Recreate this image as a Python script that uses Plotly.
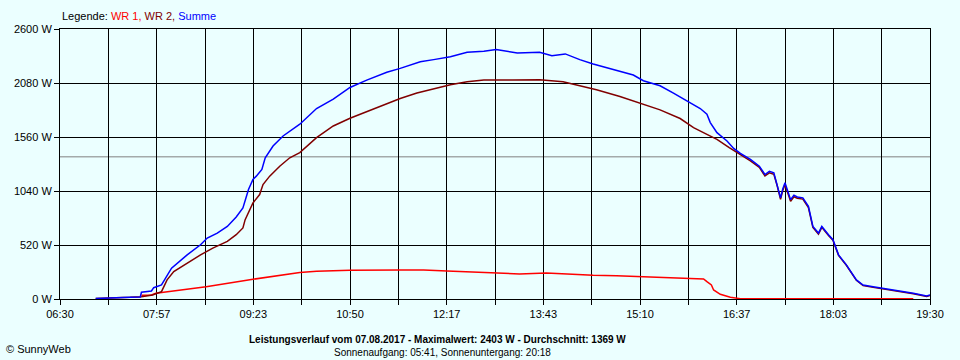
import plotly.graph_objects as go

# ---- data ----
summe_time = ["07:02","07:20","07:33","07:42","07:43","07:52","07:54","08:01","08:06","08:10",
              "08:24","08:36","08:42","08:51","09:00","09:08","09:14","09:16","09:19","09:23",
              "09:26","09:31","09:34","09:41","09:50","10:05","10:20","10:35","10:50","11:05",
              "11:23","11:35","11:53","12:05","12:20","12:35","12:50","13:01","13:20","13:40",
              "13:51","14:03","14:16","14:28","14:46","15:04","15:13","15:28","15:40","15:53",
              "16:04","16:10","16:13","16:19","16:28","16:34","16:40","16:49","16:57","17:02",
              "17:06","17:10","17:13","17:16","17:18","17:20","17:25","17:28","17:31","17:36",
              "17:41","17:45","17:50","17:53","17:59","18:03","18:08","18:15","18:24","18:30",
              "18:39","18:48","19:03","19:15","19:27","19:30"]
summe_w = [5,8,16,20,65,77,109,135,232,297,
           425,522,587,635,699,790,877,957,1054,1151,
           1183,1247,1360,1473,1570,1683,1834,1924,2037,2108,
           2183,2221,2285,2305,2333,2376,2386,2403,2369,2376,
           2343,2360,2305,2263,2208,2157,2102,2053,1983,1898,
           1834,1779,1699,1602,1521,1450,1402,1344,1279,1199,
           1230,1215,1102,974,1060,1119,957,1000,983,974,
           893,699,635,699,619,571,425,329,184,135,
           119,103,80,55,29,39]

wr2_time = ["07:02","07:20","07:33","07:43","07:53","08:01","08:06","08:12","08:24","08:36",
            "08:47","09:00","09:08","09:14","09:16","09:19","09:23","09:29","09:32","09:38",
            "09:47","09:56","10:05","10:20","10:35","10:50","11:05","11:20","11:35","11:50",
            "12:05","12:20","12:35","12:50","13:16","13:40","14:01","14:16","14:31","14:52",
            "15:10","15:28","15:46","15:58","16:10","16:19","16:30","16:40","16:49","16:57",
            "17:02","17:06","17:10","17:13","17:16","17:18","17:20","17:25","17:28","17:31",
            "17:36","17:41","17:45","17:50","17:53","17:59","18:03","18:08","18:15","18:24",
            "18:30","18:39","18:48","19:03","19:15","19:27","19:30"]
wr2_w = [5,8,16,22,39,71,184,264,345,425,
         490,554,619,684,764,829,925,1006,1102,1183,
         1279,1360,1409,1554,1666,1741,1802,1866,1931,1983,
         2021,2063,2092,2108,2108,2111,2092,2053,2014,1950,
         1886,1821,1738,1651,1586,1538,1457,1393,1330,1268,
         1185,1215,1200,1090,960,1045,1100,940,985,970,
         962,880,690,625,690,612,565,420,325,180,
         130,112,98,75,50,25,35]

wr1_time = ["07:43","07:52","07:56","08:41","09:23","10:05","10:20","10:50","11:35","11:56",
            "12:17","12:35","13:01","13:22","13:46","14:07","14:28","14:49","15:10","15:31",
            "15:52","16:07","16:10","16:14","16:16","16:22","16:31","16:40","17:10","18:00",
            "19:15"]
wr1_w = [35,39,55,119,190,254,267,276,280,280,
         270,260,248,241,251,238,228,225,215,206,
         196,193,167,135,87,45,16,3,3,2,
         2]

average_w = 1369
x_labels = ["06:30","07:57","09:23","10:50","12:17","13:43","15:10","16:37","18:03","19:30"]
y_ticks = [0, 520, 1040, 1560, 2080, 2600]


def to_min(s):
    h, m = s.split(":")
    return int(h) * 60 + int(m)


FONT = "Liberation Sans, Arial, sans-serif"
BG = "#EBFFFF"

fig = go.Figure()
fig.add_trace(go.Scatter(x=[to_min(t) for t in wr1_time], y=wr1_w, mode="lines",
                         line=dict(color="#FF0000", width=1.5), name="WR 1"))
fig.add_trace(go.Scatter(x=[to_min(t) for t in wr2_time], y=wr2_w, mode="lines",
                         line=dict(color="#800000", width=1.5), name="WR 2"))
fig.add_trace(go.Scatter(x=[to_min(t) for t in summe_time], y=summe_w, mode="lines",
                         line=dict(color="#0000FF", width=1.5), name="Summe"))

x0, x1 = to_min(x_labels[0]), to_min(x_labels[-1])
n = 18
tickvals = [x0 + i * (x1 - x0) / n for i in range(n + 1)]
ticktext = [x_labels[i // 2] if i % 2 == 0 else "" for i in range(n + 1)]

fig.add_shape(type="line", xref="paper", x0=0, x1=1, yref="y", y0=average_w, y1=average_w,
              line=dict(color="#808080", width=1), layer="below")

fig.update_layout(
    width=960, height=360,
    margin=dict(l=60, r=30, t=29, b=61, autoexpand=False),
    paper_bgcolor=BG, plot_bgcolor=BG,
    showlegend=False,
    hovermode=False,
    font=dict(family=FONT, size=11, color="black"),
    xaxis=dict(range=[x0, x1], tickmode="array", tickvals=tickvals, ticktext=ticktext,
               showgrid=True, gridcolor="black", gridwidth=1,
               showline=True, linecolor="black", linewidth=1, mirror=True,
               ticks="outside", ticklen=5, tickcolor="black", zeroline=False,
               tickfont=dict(size=11)),
    yaxis=dict(range=[0, 2600], tickmode="array", tickvals=y_ticks,
               ticktext=[f"{v} W" for v in y_ticks],
               showgrid=True, gridcolor="black", gridwidth=1,
               showline=True, linecolor="black", linewidth=1, mirror=True,
               ticks="outside", ticklen=5, tickcolor="black", zeroline=False,
               tickfont=dict(size=11)),
)

fig.add_annotation(xref="paper", yref="paper", x=0, y=(299 - 16) / 270, xanchor="left", yanchor="middle",
                   showarrow=False, font=dict(family=FONT, size=11),
                   text="Legende: <span style='color:#FF0000'>WR 1,</span> "
                        "<span style='color:#800000'>WR 2,</span> "
                        "<span style='color:#0000FF'>Summe</span>")
fig.add_annotation(xref="paper", yref="paper", x=(437 - 60) / 870, y=(299 - 339) / 270,
                   xanchor="center", yanchor="middle", showarrow=False,
                   font=dict(family=FONT, size=10),
                   text="<b>Leistungsverlauf vom 07.08.2017 - Maximalwert: 2403 W - Durchschnitt: 1369 W</b>")
fig.add_annotation(xref="paper", yref="paper", x=(442 - 60) / 870, y=(299 - 352) / 270,
                   xanchor="center", yanchor="middle", showarrow=False,
                   font=dict(family=FONT, size=10),
                   text="Sonnenaufgang: 05:41, Sonnenuntergang: 20:18")
fig.add_annotation(xref="paper", yref="paper", x=(4 - 60) / 870, y=(299 - 349) / 270,
                   xanchor="left", yanchor="middle", showarrow=False,
                   font=dict(family=FONT, size=11),
                   text="© SunnyWeb")

fig.write_html("out.html", config={"displayModeBar": False, "staticPlot": True},
               post_script="document.body.style.margin='0';")
